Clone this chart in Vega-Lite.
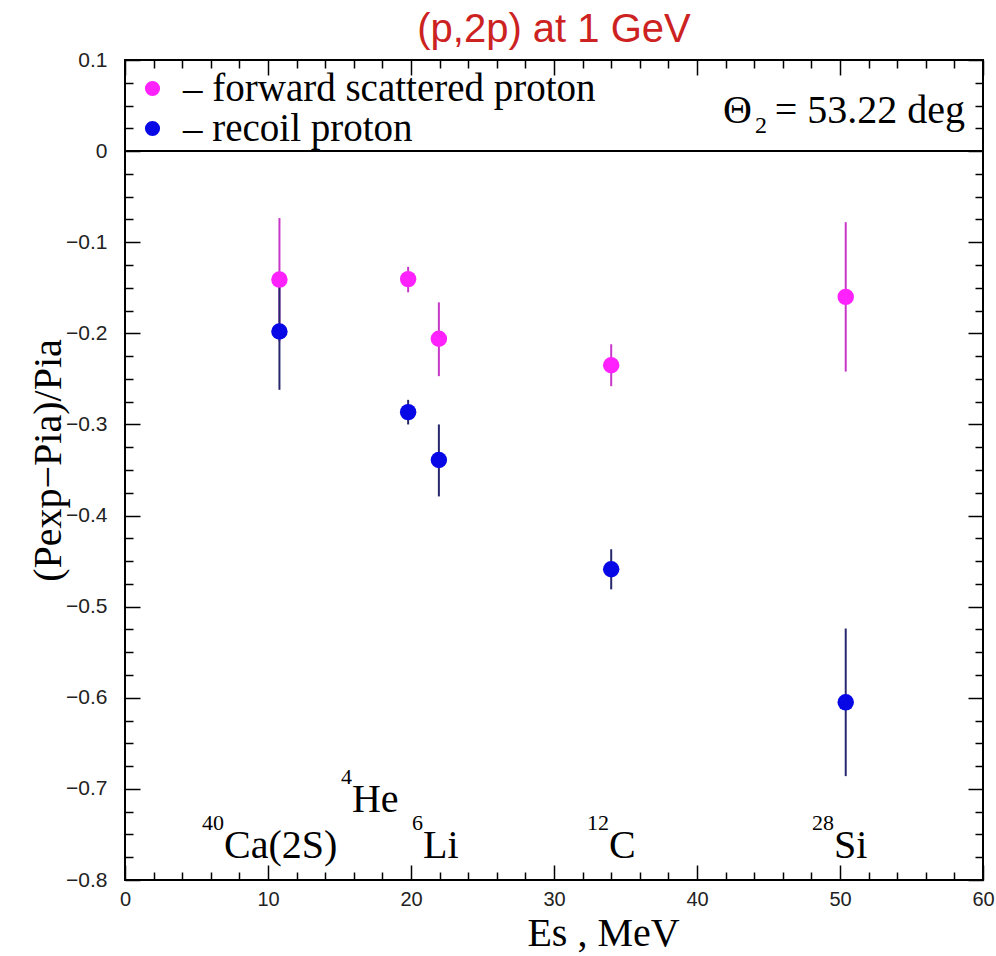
{
  "$schema": "https://vega.github.io/schema/vega-lite/v6.json",
  "width": 858,
  "height": 820,
  "autosize": {"type": "none"},
  "padding": {"left": 125, "top": 60, "right": 13, "bottom": 76},
  "background": "white",
  "config": {
    "view": {"stroke": "black", "strokeWidth": 2},
    "axis": {
      "domain": false,
      "grid": false,
      "tickColor": "black",
      "tickWidth": 1.5,
      "labelFont": "Liberation Sans",
      "labelFontSize": 21,
      "labelColor": "#222222",
      "titleFont": "Liberation Serif",
      "titleFontSize": 40,
      "titleFontWeight": "normal",
      "titleColor": "black"
    }
  },
  "title": {
    "text": "(p,2p) at 1 GeV",
    "color": "#cc2222",
    "font": "Liberation Sans",
    "fontSize": 40,
    "fontWeight": "normal",
    "anchor": "middle",
    "baseline": "alphabetic",
    "offset": 20,
    "dy": 53
  },
  "datasets": {
    "pts": [
      {"series": "forward scattered proton", "Es": 10.8, "r": -0.141, "lo": -0.209, "hi": -0.0735},
      {"series": "forward scattered proton", "Es": 19.8, "r": -0.1405, "lo": -0.155, "hi": -0.127},
      {"series": "forward scattered proton", "Es": 21.95, "r": -0.206, "lo": -0.247, "hi": -0.166},
      {"series": "forward scattered proton", "Es": 34.0, "r": -0.235, "lo": -0.258, "hi": -0.212},
      {"series": "forward scattered proton", "Es": 50.4, "r": -0.16, "lo": -0.242, "hi": -0.078},
      {"series": "recoil proton", "Es": 10.8, "r": -0.198, "lo": -0.262, "hi": -0.134},
      {"series": "recoil proton", "Es": 19.8, "r": -0.2865, "lo": -0.3, "hi": -0.273},
      {"series": "recoil proton", "Es": 21.95, "r": -0.339, "lo": -0.379, "hi": -0.3},
      {"series": "recoil proton", "Es": 34.0, "r": -0.459, "lo": -0.481, "hi": -0.437},
      {"series": "recoil proton", "Es": 50.4, "r": -0.605, "lo": -0.686, "hi": -0.524}
    ],
    "notes": [
      {"sup": "40", "main": "Ca(2S)", "Es": 6.92, "r": -0.776},
      {"sup": "4", "main": "He", "Es": 15.87, "r": -0.7256},
      {"sup": "6", "main": "Li", "Es": 20.84, "r": -0.776},
      {"sup": "12", "main": "C", "Es": 33.85, "r": -0.776},
      {"sup": "28", "main": "Si", "Es": 49.58, "r": -0.776}
    ],
    "theta": [
      {"Es": 58.74, "r": 0.031}
    ]
  },
  "layer": [
    {
      "data": {"values": [{}]},
      "mark": {"type": "rule", "color": "black", "strokeWidth": 2},
      "encoding": {
        "y": {"datum": 0, "type": "quantitative", "axis": null}
      }
    },
    {
      "data": {"name": "pts"},
      "mark": {"type": "rule", "strokeWidth": 2},
      "encoding": {
        "x": {
          "field": "Es", "type": "quantitative",
          "scale": {"domain": [0, 60], "nice": false, "zero": false},
          "axis": {
            "orient": "bottom",
            "values": [0,2,4,6,8,10,12,14,16,18,20,22,24,26,28,30,32,34,36,38,40,42,44,46,48,50,52,54,56,58,60],
            "tickSize": {"condition": {"test": "datum.value % 10 === 0", "value": -15}, "value": -8},
            "format": "~g",
            "labelExpr": "datum.value % 10 === 0 ? datum.label : ''",
            "labelPadding": 24,
            "labelFontSize": 20,
            "labelFlush": false,
            "labelOverlap": false,
            "title": "Es , MeV",
            "titleX": 478,
            "titleY": 65,
            "titleAlign": "center",
            "titleBaseline": "alphabetic"
          }
        },
        "y": {
          "field": "lo", "type": "quantitative",
          "scale": {"domain": [-0.8, 0.1], "nice": false, "zero": false},
          "axis": {
            "orient": "left",
            "values": [-0.8,-0.775,-0.75,-0.725,-0.7,-0.675,-0.65,-0.625,-0.6,-0.575,-0.55,-0.525,-0.5,-0.475,-0.45,-0.425,-0.4,-0.375,-0.35,-0.325,-0.3,-0.275,-0.25,-0.225,-0.2,-0.175,-0.15,-0.125,-0.1,-0.075,-0.05,-0.025,0,0.025,0.05,0.075,0.1],
            "tickSize": {"condition": {"test": "abs(datum.value*10 - round(datum.value*10)) < 0.001", "value": -15}, "value": -8},
            "format": "~g",
            "labelExpr": "abs(datum.value*10 - round(datum.value*10)) < 0.001 ? datum.label : ''",
            "labelPadding": 33,
            "labelFlush": false,
            "labelOverlap": false,
            "title": "(Pexp−Pia)/Pia",
            "titleX": -77,
            "titleY": 400,
            "titleAngle": -90,
            "titleAlign": "center",
            "titleBaseline": "middle"
          }
        },
        "y2": {"field": "hi"},
        "color": {
          "field": "series", "type": "nominal",
          "scale": {"domain": ["forward scattered proton", "recoil proton"], "range": ["#c838c8", "#27276e"]},
          "legend": null
        }
      }
    },
    {
      "data": {"name": "pts"},
      "mark": {"type": "point", "filled": true, "shape": "circle", "size": 270, "opacity": 1},
      "encoding": {
        "x": {
          "field": "Es", "type": "quantitative",
          "axis": {
            "orient": "top",
            "values": [0,2,4,6,8,10,12,14,16,18,20,22,24,26,28,30,32,34,36,38,40,42,44,46,48,50,52,54,56,58,60],
            "tickSize": {"condition": {"test": "datum.value % 10 === 0", "value": -15}, "value": -8},
            "labels": false,
            "title": null
          }
        },
        "y": {
          "field": "r", "type": "quantitative",
          "axis": {
            "orient": "right",
            "values": [-0.8,-0.775,-0.75,-0.725,-0.7,-0.675,-0.65,-0.625,-0.6,-0.575,-0.55,-0.525,-0.5,-0.475,-0.45,-0.425,-0.4,-0.375,-0.35,-0.325,-0.3,-0.275,-0.25,-0.225,-0.2,-0.175,-0.15,-0.125,-0.1,-0.075,-0.05,-0.025,0,0.025,0.05,0.075,0.1],
            "tickSize": {"condition": {"test": "abs(datum.value*10 - round(datum.value*10)) < 0.001", "value": -15}, "value": -8},
            "labels": false,
            "title": null
          }
        },
        "color": {
          "field": "series", "type": "nominal",
          "scale": {"domain": ["forward scattered proton", "recoil proton"], "range": ["#ff22ff", "#0808e6"]},
          "legend": {
            "orient": "none",
            "legendX": 8,
            "legendY": 9,
            "title": null,
            "padding": 0,
            "labelFont": "Liberation Serif",
            "labelFontSize": 39,
            "labelColor": "black",
            "labelLimit": 0,
            "labelExpr": "'– ' + datum.label",
            "symbolType": "circle",
            "symbolSize": 230,
            "symbolStrokeWidth": 0,
            "labelOffset": 11,
            "rowPadding": -4
          }
        }
      }
    },
    {
      "data": {"name": "notes"},
      "mark": {"type": "text", "font": "Liberation Serif", "fontSize": 40, "align": "left", "baseline": "alphabetic", "color": "black"},
      "encoding": {
        "x": {"field": "Es", "type": "quantitative", "axis": null},
        "y": {"field": "r", "type": "quantitative", "axis": null},
        "text": {"field": "main"}
      }
    },
    {
      "data": {"name": "notes"},
      "mark": {"type": "text", "font": "Liberation Serif", "fontSize": 22, "align": "right", "baseline": "alphabetic", "dy": -28, "color": "black"},
      "encoding": {
        "x": {"field": "Es", "type": "quantitative", "axis": null},
        "y": {"field": "r", "type": "quantitative", "axis": null},
        "text": {"field": "sup"}
      }
    },
    {
      "data": {"name": "theta"},
      "mark": {"type": "text", "font": "Liberation Serif", "fontSize": 40, "align": "right", "baseline": "alphabetic", "color": "black", "text": "= 53.22 deg"},
      "encoding": {
        "x": {"field": "Es", "type": "quantitative", "axis": null},
        "y": {"field": "r", "type": "quantitative", "axis": null}
      }
    },
    {
      "data": {"name": "theta"},
      "mark": {"type": "text", "font": "Liberation Serif", "fontSize": 24, "align": "right", "baseline": "alphabetic", "color": "black", "text": "2", "dx": -198, "dy": 10},
      "encoding": {
        "x": {"field": "Es", "type": "quantitative", "axis": null},
        "y": {"field": "r", "type": "quantitative", "axis": null}
      }
    },
    {
      "data": {"name": "theta"},
      "mark": {"type": "text", "font": "Liberation Serif", "fontSize": 40, "align": "right", "baseline": "alphabetic", "color": "black", "text": "Θ", "dx": -213},
      "encoding": {
        "x": {"field": "Es", "type": "quantitative", "axis": null},
        "y": {"field": "r", "type": "quantitative", "axis": null}
      }
    }
  ],
  "resolve": {
    "axis": {"x": "independent", "y": "independent"},
    "scale": {"color": "independent"}
  }
}
